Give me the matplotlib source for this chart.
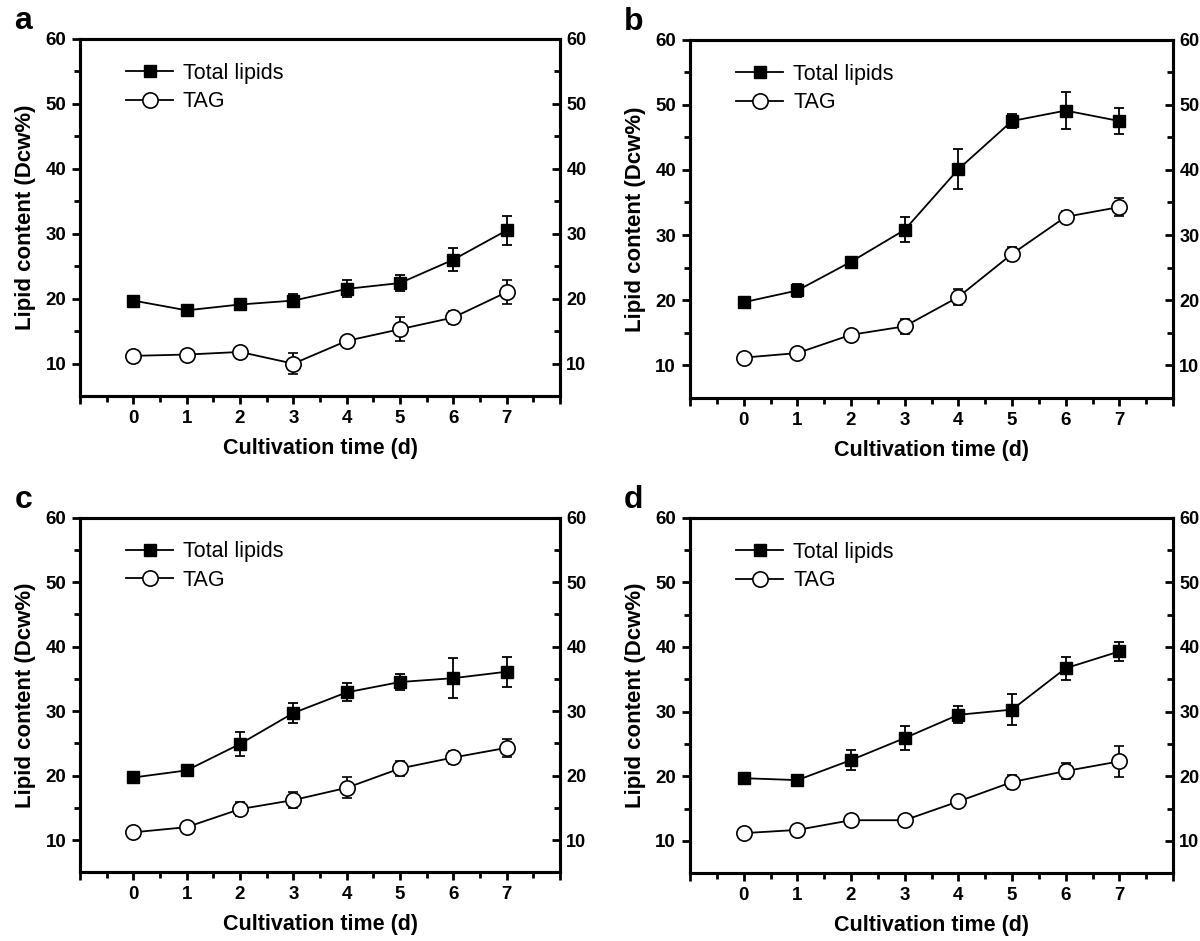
import numpy as np
import matplotlib.pyplot as plt
from matplotlib.ticker import MultipleLocator, FixedLocator
from matplotlib.lines import Line2D

plt.rcParams['font.family'] = ['Liberation Sans', 'DejaVu Sans']

# Dias de cultivo
dias = [0, 1, 2, 3, 4, 5, 6, 7]

# Painel a
total_a = [19.7, 18.2, 19.1, 19.7, 21.5, 22.4, 26.0, 30.5]
total_a_err = [0.3, 0.4, 0.5, 1.0, 1.3, 1.2, 1.8, 2.2]
tag_a = [11.2, 11.4, 11.8, 10.0, 13.5, 15.3, 17.1, 21.0]
tag_a_err = [0.3, 0.5, 0.7, 1.6, 0.5, 1.8, 1.0, 1.8]
# Painel b
total_b = [19.7, 21.5, 25.9, 30.8, 40.1, 47.5, 49.1, 47.5]
total_b_err = [0.3, 1.0, 0.8, 1.9, 3.1, 1.1, 2.8, 2.0]
tag_b = [11.2, 11.9, 14.7, 16.0, 20.5, 27.1, 32.8, 34.3]
tag_b_err = [0.3, 0.6, 0.8, 1.1, 1.2, 1.1, 0.9, 1.4]
# Painel c
total_c = [19.7, 20.8, 24.9, 29.7, 32.9, 34.5, 35.1, 36.1]
total_c_err = [0.3, 0.8, 1.8, 1.6, 1.4, 1.2, 3.1, 2.3]
tag_c = [11.2, 12.0, 14.8, 16.2, 18.1, 21.1, 22.8, 24.3]
tag_c_err = [0.3, 0.5, 1.1, 1.2, 1.6, 1.2, 1.0, 1.4]
# Painel d
total_d = [19.7, 19.4, 22.5, 25.9, 29.5, 30.3, 36.7, 39.3]
total_d_err = [0.3, 0.8, 1.6, 1.8, 1.3, 2.4, 1.8, 1.5]
tag_d = [11.2, 11.7, 13.2, 13.2, 16.1, 19.1, 20.8, 22.3]
tag_d_err = [0.3, 0.4, 0.8, 0.6, 0.9, 1.1, 1.3, 2.4]

paineis = [
    ("a", total_a, total_a_err, tag_a, tag_a_err, [0.0667, 0.579, 0.400, 0.380]),
    ("b", total_b, total_b_err, tag_b, tag_b_err, [0.5750, 0.577, 0.4025, 0.381]),
    ("c", total_c, total_c_err, tag_c, tag_c_err, [0.0667, 0.073, 0.400, 0.377]),
    ("d", total_d, total_d_err, tag_d, tag_d_err, [0.5750, 0.072, 0.4025, 0.378]),
]

fig = plt.figure(figsize=(12, 9.41), dpi=100)

for letra, tot, tot_err, tag, tag_err, pos in paineis:
    ax = fig.add_axes(pos)
    ax.errorbar(dias, tot, yerr=tot_err, color='k', lw=1.3, marker='s', ms=8,
                mfc='k', mec='k', capsize=3.5, elinewidth=1.3, capthick=1.3)
    ax.errorbar(dias, tag, yerr=tag_err, color='k', lw=1.3, marker='o', ms=11,
                mfc='white', mec='k', mew=1.2, capsize=3.5, elinewidth=1.3,
                capthick=1.3)
    # Eixo horizontal
    ax.set_xlim(-1, 8)
    ax.xaxis.set_major_locator(FixedLocator(range(-1, 9)))
    ax.set_xticklabels(["" if (k < 0 or k > 7) else str(k) for k in range(-1, 9)])
    ax.xaxis.set_minor_locator(MultipleLocator(0.5))
    ax.set_xlabel("Cultivation time (d)", fontsize=15.5, fontweight='bold', labelpad=8)
    # Eixo vertical
    ax.set_ylim(5, 60)
    ax.yaxis.set_major_locator(FixedLocator([10, 20, 30, 40, 50, 60]))
    ax.yaxis.set_minor_locator(FixedLocator([15, 25, 35, 45, 55]))
    ax.set_ylabel("Lipid content (Dcw%)", fontsize=16, fontweight='bold', labelpad=7)
    ax.tick_params(which='major', direction='out', length=6, width=2,
                   labelsize=13.5, pad=4)
    ax.tick_params(which='minor', direction='out', length=4, width=2)
    for lab in ax.get_xticklabels() + ax.get_yticklabels():
        lab.set_fontweight('bold')
    for s in ax.spines.values():
        s.set_linewidth(2.2)
    # Eixo da direita
    ax2 = ax.twinx()
    ax2.set_ylim(5, 60)
    ax2.yaxis.set_major_locator(FixedLocator([10, 20, 30, 40, 50, 60]))
    ax2.yaxis.set_minor_locator(FixedLocator([15, 25, 35, 45, 55]))
    ax2.tick_params(which='major', direction='in', length=6, width=2,
                    labelsize=13, pad=4.5)
    ax2.tick_params(which='minor', direction='in', length=4, width=2)
    for lab in ax2.get_yticklabels():
        lab.set_fontweight('bold')
    for s in ax2.spines.values():
        s.set_linewidth(2.2)

    # Legenda (sem barras de erro)
    h1 = Line2D([], [], color='k', lw=1.3, marker='s', ms=8, mfc='k', mec='k')
    h2 = Line2D([], [], color='k', lw=1.3, marker='o', ms=11, mfc='white',
                mec='k', mew=1.2)
    ax.legend([h1, h2], ["Total lipids", "TAG"], loc='upper left',
              bbox_to_anchor=(0.064, 0.975), frameon=False, fontsize=15.5,
              handlelength=2.2, handletextpad=0.45, labelspacing=0.35,
              borderaxespad=0.3)
    ax.text(-0.137, 1.027, letra, transform=ax.transAxes, fontsize=23,
            fontweight='bold', ha='left', va='baseline')

plt.savefig("out.png", dpi=100)
